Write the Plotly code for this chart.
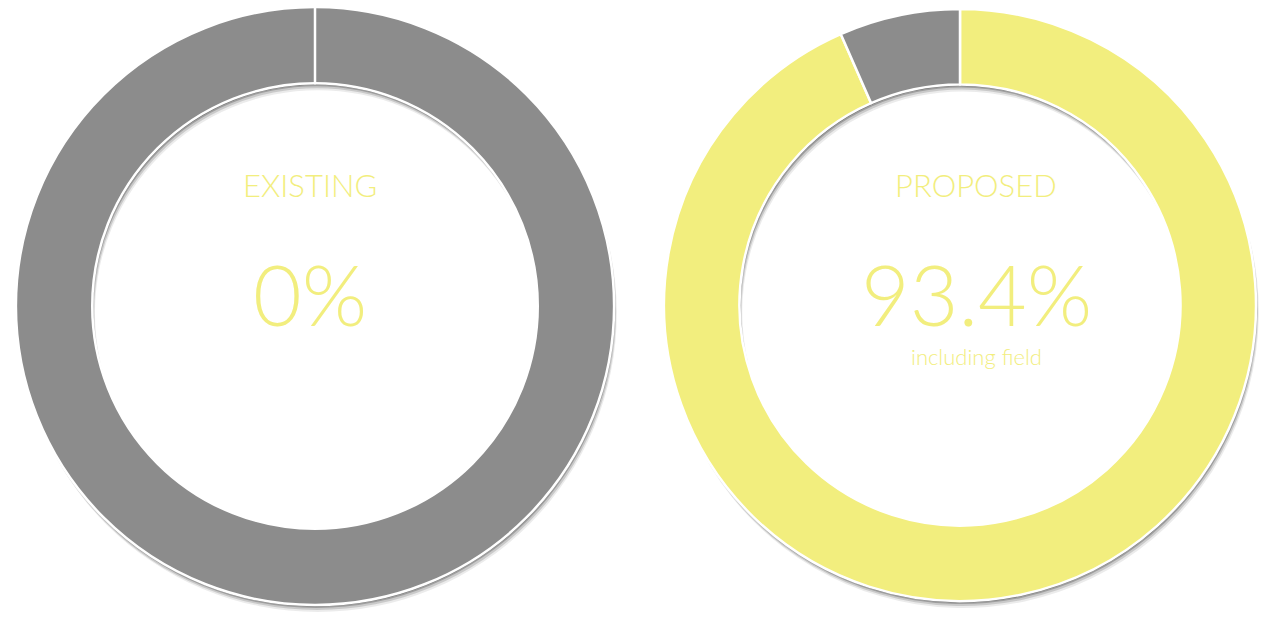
import plotly.graph_objects as go

# Data
labels = ["Included", "Remaining"]
existing_values = [0, 100]
proposed_values = [93.4, 6.6]
titles = ["EXISTING", "PROPOSED"]
big_labels = ["0%", "93.4%"]
sub_labels = ["", "including field"]

YELLOW = "#F2EE7E"
GREY = "#8C8C8C"
FONT = "Lato, 'Noto Sans', sans-serif"

W, H = 1264, 630

def dom(cx, cy, r, dx=0, dy=0):
    return dict(x=[(cx - r + dx) / W, (cx + r + dx) / W],
                y=[1 - (cy + r + dy) / H, 1 - (cy - r + dy) / H])

pies = [
    (existing_values, 315, 306, 299),
    (proposed_values, 960, 305, 296),
]

fig = go.Figure()
HOLE = 0.745
for vals, cx, cy, r in pies:
    # soft shadow
    for off, alpha in [(7, 0.08), (5, 0.14), (3, 0.22), (1.5, 0.3)]:
        fig.add_trace(go.Pie(
            values=vals, labels=labels, hole=HOLE, sort=False, direction="clockwise",
            domain=dom(cx, cy, r, dx=off * 0.4, dy=off),
            marker=dict(colors=[f"rgba(0,0,0,{alpha})"] * 2, line=dict(width=0)),
            textinfo="none", hoverinfo="skip", showlegend=False,
        ))
    fig.add_trace(go.Pie(
        values=vals, labels=labels, hole=HOLE, sort=False, direction="clockwise",
        domain=dom(cx, cy, r),
        marker=dict(colors=[YELLOW, GREY], line=dict(color="white", width=2.5)),
        textinfo="none", showlegend=False,
    ))

# separator line at the start of the empty existing ring
cx, cy, r = 315, 306, 299
fig.add_shape(type="line", xref="paper", yref="paper",
              x0=cx / W, x1=cx / W, y0=1 - (cy - r * HOLE) / H, y1=1 - (cy - r) / H,
              line=dict(color="white", width=2.5))

text_x = [310 / W, 976 / W]
for i in range(2):
    fig.add_annotation(x=text_x[i], y=1 - 185 / H, xref="paper", yref="paper",
                       xanchor="center", yanchor="middle",
                       text=titles[i], showarrow=False,
                       font=dict(family=FONT, size=31, color=YELLOW, weight=300))
    fig.add_annotation(x=text_x[i], y=1 - 293 / H, xref="paper", yref="paper",
                       xanchor="center", yanchor="middle",
                       text=big_labels[i], showarrow=False,
                       font=dict(family=FONT, size=84, color=YELLOW, weight=300))
    if sub_labels[i]:
        fig.add_annotation(x=text_x[i], y=1 - 356 / H, xref="paper", yref="paper",
                           xanchor="center", yanchor="middle",
                           text=sub_labels[i], showarrow=False,
                           font=dict(family=FONT, size=22, color=YELLOW, weight=300))

fig.update_layout(width=W, height=H, margin=dict(l=0, r=0, t=0, b=0),
                  paper_bgcolor="white", plot_bgcolor="white", showlegend=False)
fig.write_html("out.html")
